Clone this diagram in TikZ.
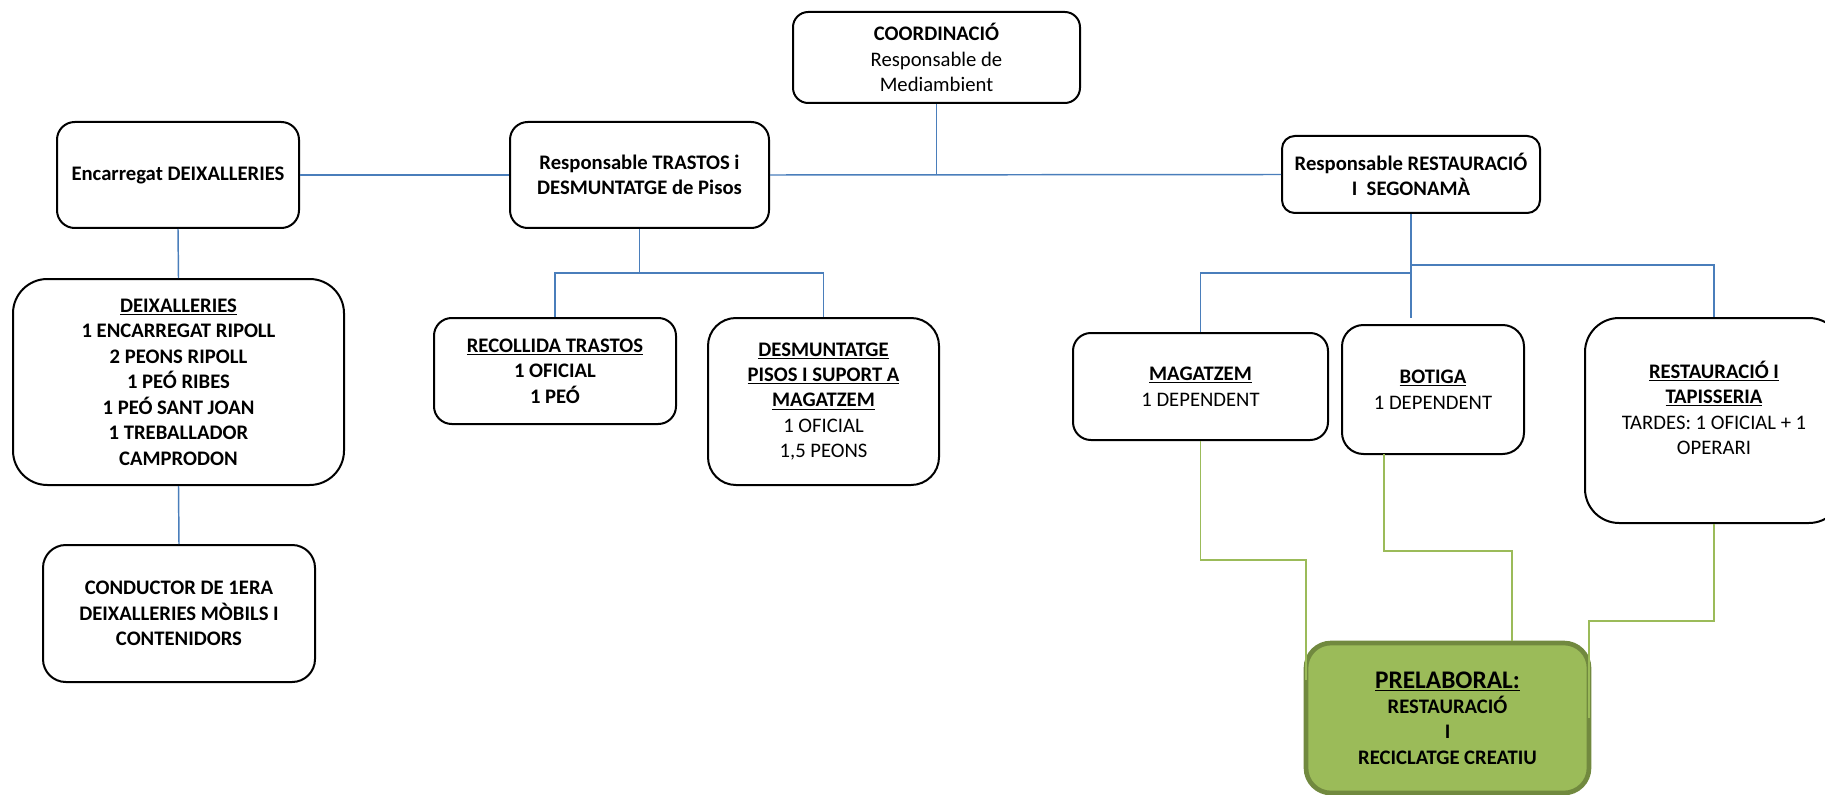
\documentclass[tikz,border=0pt]{standalone}
\usepackage{fontspec}
\setmainfont{Carlito}
\usepackage{tikz}
\usetikzlibrary{positioning}
\usepackage{xcolor}
\definecolor{liniablava}{RGB}{74,126,187}
\definecolor{verdclar}{RGB}{155,187,89}
\definecolor{verdfosc}{RGB}{113,137,63}

\begin{document}
\begin{tikzpicture}[x=0.75pt,y=-0.75pt,inner sep=0pt,font=\fontsize{15.5}{19.1}\selectfont]
  \tikzstyle{caixa}=[draw=black,line width=1.5pt,fill=white,align=center]
  \tikzstyle{blau}=[draw=liniablava,line width=1.1pt]
  \tikzstyle{verd}=[draw=verdclar,line width=1.1pt]

  \useasboundingbox (0,0) rectangle (1825,795);
  \clip (0,0) rectangle (1825,795);

  % caps
  \node[caixa,rounded corners=11.4pt,minimum width=215.25pt,minimum height=68.25pt] (coord) at (936.5,57.5)
    {\textbf{COORDINACIÓ}\\Responsable de\\Mediambient};
  \node[caixa,rounded corners=13.3pt,minimum width=181.5pt,minimum height=79.5pt] (encarregat) at (178,175)
    {\textbf{Encarregat DEIXALLERIES}};
  \node[caixa,rounded corners=13.3pt,minimum width=194.25pt,minimum height=79.5pt] (trastos) at (639.5,175)
    {\textbf{Responsable TRASTOS i}\\\textbf{DESMUNTATGE de Pisos}};
  \node[caixa,rounded corners=9.6pt,minimum width=193.5pt,minimum height=57.75pt] (restaur) at (1411,174.5)
    {\textbf{Responsable RESTAURACIÓ}\\\textbf{I\ \ SEGONAMÀ}};

  % equips
  \node[caixa,rounded corners=25.75pt,minimum width=248.25pt,minimum height=154.5pt] (deix) at (178.5,382)
    {\textbf{\underline{DEIXALLERIES}}\\\textbf{1 ENCARREGAT RIPOLL}\\\textbf{2 PEONS RIPOLL}\\\textbf{1 PEÓ RIBES}\\\textbf{1 PEÓ SANT JOAN}\\\textbf{1 TREBALLADOR}\\\textbf{CAMPRODON}};
  \node[caixa,rounded corners=17.1pt,minimum width=204pt,minimum height=102.75pt] (conductor) at (179,613.5)
    {\textbf{CONDUCTOR DE 1ERA}\\\textbf{DEIXALLERIES MÒBILS I}\\\textbf{CONTENIDORS}};
  \node[caixa,rounded corners=13.3pt,minimum width=181.5pt,minimum height=79.5pt] (recollida) at (555,371)
    {\textbf{\underline{RECOLLIDA TRASTOS}}\\\textbf{1 OFICIAL}\\\textbf{1 PEÓ}};
  \node[caixa,rounded corners=20.9pt,minimum width=173.25pt,minimum height=125.25pt] (desmunt) at (823.5,401.5)
    {\textbf{\underline{DESMUNTATGE}}\\\textbf{\underline{PISOS I SUPORT A}}\\\textbf{\underline{MAGATZEM}}\\1 OFICIAL\\1,5 PEONS};
  \node[caixa,rounded corners=13.4pt,minimum width=191.25pt,minimum height=80.25pt] (magatzem) at (1200.5,386.5)
    {\textbf{\underline{MAGATZEM}}\\1 DEPENDENT};
  \node[caixa,rounded corners=16.1pt,minimum width=136.5pt,minimum height=96.75pt] (botiga) at (1433,389.5)
    {\textbf{\underline{BOTIGA}}\\1 DEPENDENT};
  \node[caixa,rounded corners=25.6pt,minimum width=193.5pt,minimum height=153.75pt] (tapisseria) at (1714,420.5)
    {\textbf{\underline{RESTAURACIÓ I}}\\\textbf{\underline{TAPISSERIA}}\\TARDES: 1 OFICIAL + 1\\OPERARI\\\mbox{}};
  \node[caixa,fill=verdclar,draw=verdfosc,line width=3.5pt,rounded corners=18.75pt,minimum width=212.25pt,minimum height=112.5pt] (prelaboral) at (1447.5,718)
    {{\fontsize{19}{22}\selectfont\textbf{\underline{PRELABORAL:}}}\\\textbf{RESTAURACIÓ}\\\textbf{I}\\\textbf{RECICLATGE CREATIU}};

  % punts de les linies
  \coordinate (bt) at (639.5,273);
  \coordinate (rb) at (1411,318);
  \coordinate (rm) at (1411,273);
  \coordinate (rt) at (1411,265);
  \coordinate (gm) at (1306,560);
  \coordinate (gmfi) at (1306,680);
  \coordinate (bs) at (1384,454);
  \coordinate (gb) at (1512,551);
  \coordinate (gt) at (1589,621);

  % linies blaves
  \draw[blau] (coord.south) -- (coord.south |- restaur.west);
  \draw[blau] (trastos.east) -- (restaur.west);
  \draw[blau] (encarregat.east) -- (trastos.west);
  \draw[blau] (encarregat.south) -- (deix.north);
  \draw[blau] (deix.south) -- (conductor.north);
  \draw[blau] (trastos.south) -- (bt);
  \draw[blau] (recollida.north) |- (bt) -| (desmunt.north);
  \draw[blau] (restaur.south) -- (rb);
  \draw[blau] (magatzem.north) |- (rm);
  \draw[blau] (rt) -| (tapisseria.north);

  % linies verdes
  \draw[verd] (magatzem.south) |- (gm) -- (gmfi);
  \draw[verd] (bs) |- (gb) -- (gb |- prelaboral.north);
  \draw[verd] (tapisseria.south) |- (gt) -- (gt |- prelaboral.east);
\end{tikzpicture}
\end{document}
